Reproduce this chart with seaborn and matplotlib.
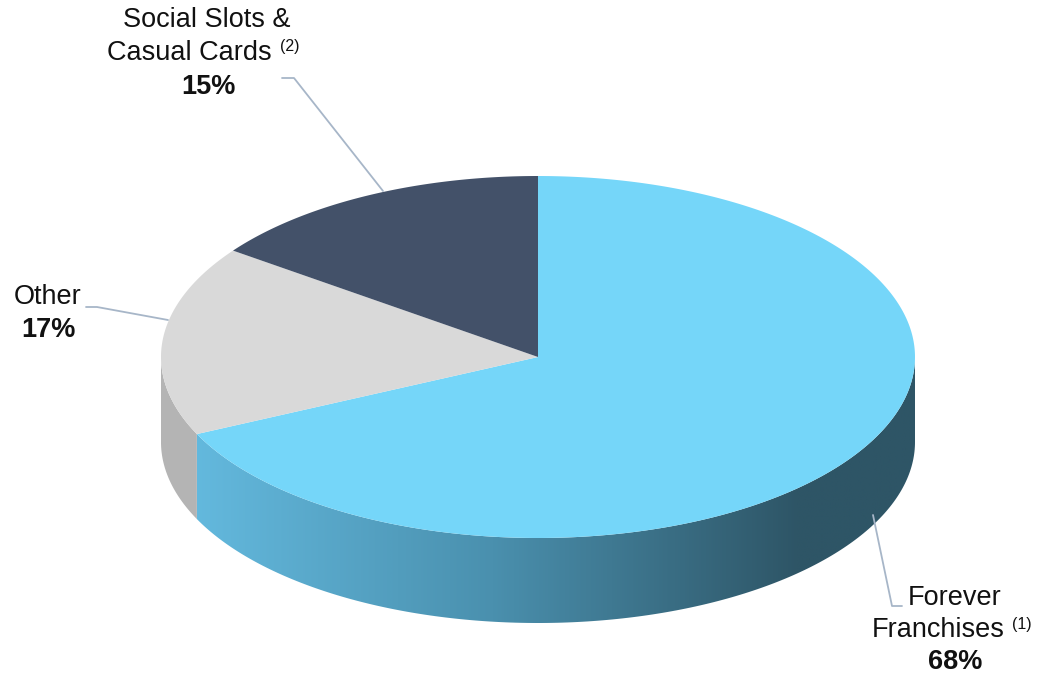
import numpy as np
import matplotlib
matplotlib.use("Agg")
import matplotlib.pyplot as plt
import seaborn as sns
from matplotlib.patches import Polygon
from matplotlib.colors import LinearSegmentedColormap

# ---- data ----
categories = ["Forever Franchises", "Other", "Social Slots & Casual Cards"]
shares = [68, 17, 15]
label_lines = [["Forever", "Franchises"], ["Other"], ["Social Slots &", "Casual Cards"]]
footnotes = ["(1)", "", "(2)"]
pct_labels = ["68%", "17%", "15%"]

top_colors = ["#75D6F9", "#D9D9D9", "#435169"]
side_colors = [None, "#B4B4B4", "#323D50"]

sns.set_theme(style="white")
plt.rcParams["font.family"] = ["Liberation Sans", "DejaVu Sans"]

W, H = 1040, 678
fig = plt.figure(figsize=(W / 100, H / 100), dpi=100)
ax = fig.add_axes([0, 0, 1, 1])
ax.set_xlim(0, W)
ax.set_ylim(H, 0)
ax.axis("off")

cx, cy, rx, ry, depth = 538, 357, 377, 181, 85


def pt(t, dz=0.0):
    t = np.radians(t)
    return cx + rx * np.cos(t), cy - ry * np.sin(t) + dz


# slice angle ranges (clockwise from 12 o'clock)
total = float(sum(shares))
start = 90.0
ranges = []
for s in shares:
    sweep = 360.0 * s / total
    ranges.append((start - sweep, start))
    start -= sweep

# ---- sides (front half only: angles in [180, 360]) ----
for i, (a0, a1) in enumerate(ranges):
    lo, hi = a0 % 360, a0 % 360 + (a1 - a0)
    segs = []
    for base in (0, 360, -360):
        s0 = max(lo + base, 180)
        s1 = min(hi + base, 360)
        if s1 > s0:
            segs.append((s0, s1))
    for s0, s1 in segs:
        ts = np.linspace(s0, s1, 200)
        top = [pt(t) for t in ts]
        bot = [pt(t, depth) for t in ts[::-1]]
        poly = Polygon(top + bot, closed=True, lw=0)
        if side_colors[i] is None:
            poly.set_facecolor("none")
            ax.add_patch(poly)
            cmap = LinearSegmentedColormap.from_list("g", ["#64BADF", "#4A90AE", "#2E5566"])
            grad = np.clip((np.linspace(cx - rx, cx + rx, 600) - 185) / (800 - 185), 0, 1)
            im = ax.imshow(grad[None, :], cmap=cmap, aspect="auto",
                           extent=(cx - rx, cx + rx, cy + ry + depth + 5, cy - 5),
                           interpolation="bilinear", zorder=1)
            im.set_clip_path(poly)
        else:
            poly.set_facecolor(side_colors[i])
            poly.set_zorder(1)
            ax.add_patch(poly)

# ---- top faces ----
for i, (a0, a1) in enumerate(ranges):
    ts = np.linspace(a0, a1, 300)
    verts = [(cx, cy)] + [pt(t) for t in ts]
    ax.add_patch(Polygon(verts, closed=True, facecolor=top_colors[i], lw=0, zorder=2))

# ---- leader lines ----
lc = "#A7B6C8"
ax.plot([873, 892, 902], [515, 606, 606], color=lc, lw=1.3, zorder=3)
ax.plot([168, 97, 86], [320, 307, 307], color=lc, lw=1.3, zorder=3)
ax.plot([383, 294, 282], [191, 78, 78], color=lc, lw=1.3, zorder=3)

# ---- labels ----
fs = 19.5
sfs = 11.5
tc = "#111111"
# Forever Franchises
ax.text(955, 598, label_lines[0][0], ha="center", va="center", fontsize=fs, color=tc)
ax.text(1005, 630, label_lines[0][1], ha="right", va="center", fontsize=fs, color=tc)
ax.text(1012, 624, footnotes[0], ha="left", va="center", fontsize=sfs, color=tc)
ax.text(955, 662, pct_labels[0], ha="center", va="center", fontsize=fs, color=tc, fontweight="bold")
# Other
ax.text(48, 297, label_lines[1][0], ha="center", va="center", fontsize=fs, color=tc)
ax.text(48, 330, pct_labels[1], ha="center", va="center", fontsize=fs, color=tc, fontweight="bold")
# Social Slots & Casual Cards
ax.text(207, 20, label_lines[2][0], ha="center", va="center", fontsize=fs, color=tc)
ax.text(272, 53, label_lines[2][1], ha="right", va="center", fontsize=fs, color=tc)
ax.text(280, 47, footnotes[2], ha="left", va="center", fontsize=sfs, color=tc)
ax.text(208, 87, pct_labels[2], ha="center", va="center", fontsize=fs, color=tc, fontweight="bold")

fig.savefig("out.png", dpi=100)
